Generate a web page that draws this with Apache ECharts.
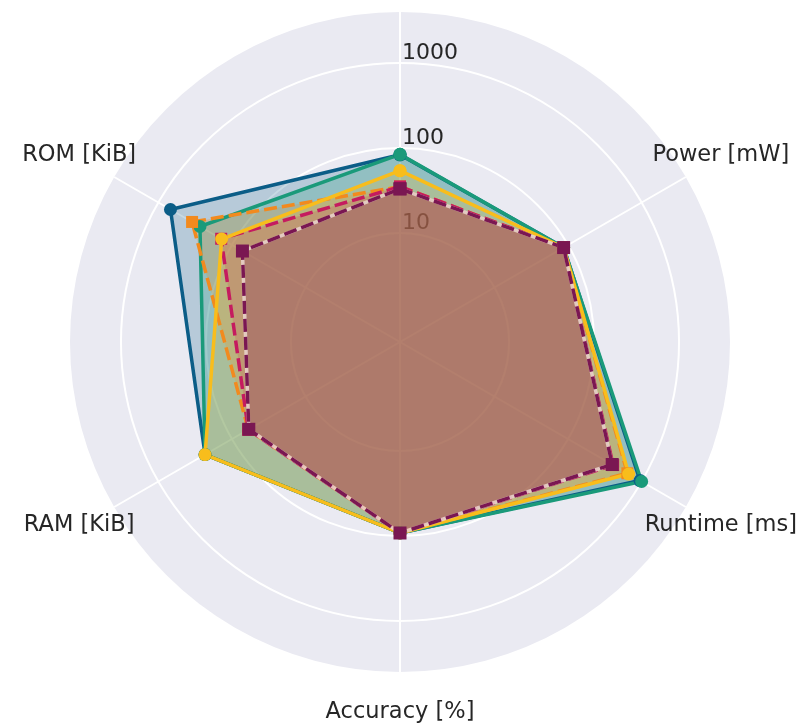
<!DOCTYPE html>
<html>
<head>
<meta charset="utf-8">
<script src="https://cdn.jsdelivr.net/npm/echarts@6/dist/echarts.min.js"></script>
<style>
  html, body { margin: 0; padding: 0; background: #ffffff; }
  #chart { width: 800px; height: 724px; }
</style>
</head>
<body>
<div id="chart"></div>
<script>
// Six deployments compared on a shared logarithmic radial scale.
// Spokes run clockwise from the top.
const categories = ['', 'Power [mW]', 'Runtime [ms]', 'Accuracy [%]', 'RAM [KiB]', 'ROM [KiB]'];
const radialTickLabels = [10, 100, 1000];

const valuesBlue    = [83, 87, 950, 92, 232, 684];
const valuesTeal    = [84, 87, 1000, 92, 232, 272];
const valuesOrange  = [35, 87, 640, 92, 60, 348];
const valuesCrimson = [35, 87, 410, 92, 60, 140];
const valuesYellow  = [54, 87, 667, 92, 232, 138];
const valuesMaroon  = [33, 87, 398, 92, 59, 72];

const FONT = 'DejaVu Sans';
const TEXT = '#262626';
const R_MIN = 0.52;
const R_MAX = 3980;

// Each polygon returns to its first spoke so the outline closes.
function closedRing(values) {
  const pts = values.map((v, i) => [v, i]);
  pts.push([values[0], values.length]);
  return pts;
}

function polygonSeries(name, values, color, opts) {
  return {
    name: name,
    type: 'line',
    coordinateSystem: 'polar',
    polarIndex: 1,
    data: closedRing(values),
    symbol: opts.symbol,
    symbolSize: opts.symbolSize,
    showSymbol: true,
    smooth: false,
    z: 2,
    itemStyle: { color: color, opacity: 1 },
    lineStyle: { color: color, width: 3.5, type: opts.dashed ? [13, 5] : 'solid' },
    areaStyle: { color: color, opacity: 0.23 },
    emphasis: { disabled: true }
  };
}

// Light under-stroke that shows through the gaps of the maroon dashes.
function gapStroke(values) {
  return {
    name: 'gap',
    type: 'line',
    coordinateSystem: 'polar',
    polarIndex: 1,
    data: closedRing(values),
    showSymbol: false,
    symbol: 'none',
    z: 2,
    lineStyle: { color: 'rgba(232,210,202,0.9)', width: 3.5 },
    emphasis: { disabled: true }
  };
}

const n = categories.length;
// Per-spoke label boxes: fixed width centres the text, line height sets its distance.
const spokeRich = {};
for (let i = 0; i < n; i++) {
  spokeRich['c' + i] = { fontFamily: FONT, fontSize: 22.5, lineHeight: 100, color: TEXT,
    width: 174, align: 'center' };
}
spokeRich.c1.lineHeight = 104;
spokeRich.c5.lineHeight = 104;
spokeRich.c2.lineHeight = 96;
spokeRich.c4.lineHeight = 96;
spokeRich.c3.lineHeight = 200;
spokeRich.c0.lineHeight = 200;

const hidden = { show: false };

const chart = echarts.init(document.getElementById('chart'), null, { renderer: 'canvas' });
chart.setOption({
  animation: false,
  backgroundColor: '#ffffff',
  // polar 0 paints the grey disc, polar 1 carries the grid, labels and data
  polar: [
    { center: [400, 342], radius: 330 },
    { center: [400, 342], radius: 330 }
  ],
  angleAxis: [
    {
      polarIndex: 0, type: 'value', min: 0, max: n, interval: 1,
      startAngle: 90, clockwise: true, z: 0,
      axisLine: hidden, axisTick: hidden, axisLabel: hidden, splitLine: hidden,
      splitArea: { show: true, areaStyle: { color: ['#eaeaf2'] } }
    },
    {
      polarIndex: 1, type: 'value', min: 0, max: n, interval: 1,
      startAngle: 90, clockwise: true, z: 1,
      axisLine: hidden, axisTick: hidden, splitArea: hidden,
      splitLine: { show: true, lineStyle: { color: '#ffffff', width: 2 } },
      axisLabel: {
        show: true,
        margin: -60,
        formatter: function (v) {
          const idx = Math.round(v) % n;
          return '{c' + idx + '|' + categories[idx] + '}';
        },
        rich: spokeRich
      }
    }
  ],
  radiusAxis: [
    {
      polarIndex: 0, type: 'log', logBase: 10, min: R_MIN, max: R_MAX, z: 0,
      axisLine: hidden, axisTick: hidden, axisLabel: hidden, splitLine: hidden, splitArea: hidden
    },
    {
      polarIndex: 1, type: 'log', logBase: 10, min: R_MIN, max: R_MAX, z: 1,
      axisLine: hidden, axisTick: hidden, splitArea: hidden,
      splitLine: {
        show: true,
        lineStyle: {
          color: ['rgba(0,0,0,0)', 'rgba(0,0,0,0)', '#ffffff', '#ffffff', '#ffffff', 'rgba(0,0,0,0)'],
          width: 2
        }
      },
      axisLabel: {
        show: true,
        fontFamily: FONT,
        fontSize: 22,
        color: TEXT,
        align: 'left',
        verticalAlign: 'bottom',
        margin: -2,
        padding: [0, 0, -1, 0],
        formatter: function (v) {
          const r = Math.round(v);
          return radialTickLabels.indexOf(r) >= 0 && Math.abs(v - r) < 1e-6 * r ? String(r) : '';
        }
      }
    }
  ],
  series: [
    polygonSeries('Blue', valuesBlue, '#0b5d87', { symbol: 'circle', symbolSize: 13, dashed: false }),
    polygonSeries('Teal', valuesTeal, '#1a9a7a', { symbol: 'circle', symbolSize: 13, dashed: false }),
    polygonSeries('Orange', valuesOrange, '#f28a1e', { symbol: 'rect', symbolSize: 12, dashed: true }),
    polygonSeries('Crimson', valuesCrimson, '#c51b5f', { symbol: 'rect', symbolSize: 12, dashed: true }),
    polygonSeries('Yellow', valuesYellow, '#f8bd1c', { symbol: 'circle', symbolSize: 13, dashed: false }),
    gapStroke(valuesMaroon),
    polygonSeries('Maroon', valuesMaroon, '#7a1752', { symbol: 'rect', symbolSize: 13, dashed: true })
  ]
});
</script>
</body>
</html>
